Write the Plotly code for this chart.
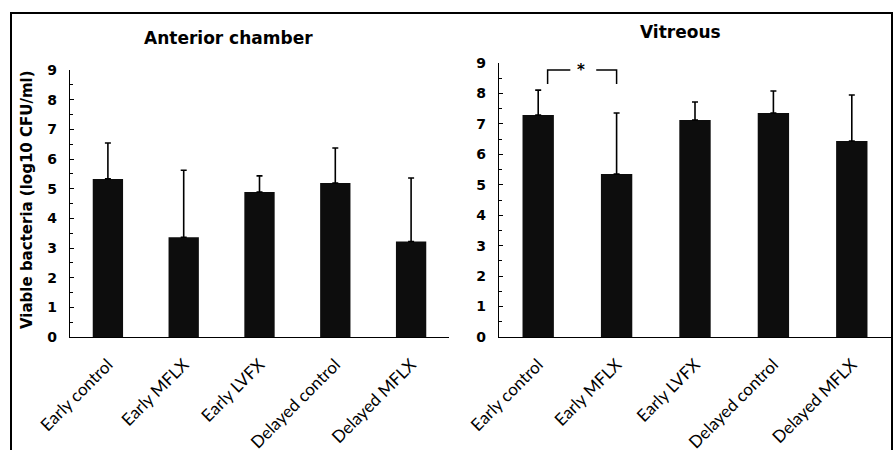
import plotly.graph_objects as go

categories = ["Early control", "Early MFLX", "Early LVFX", "Delayed control", "Delayed MFLX"]
ac_mean = [5.33, 3.36, 4.89, 5.19, 3.22]
ac_upper = [6.54, 5.62, 5.43, 6.37, 5.36]
vit_mean = [7.29, 5.35, 7.13, 7.36, 6.44]
vit_upper = [8.11, 7.36, 7.72, 8.08, 7.95]
y_ticks = [0, 1, 2, 3, 4, 5, 6, 7, 8, 9]

W, H = 896, 450
FONT = "Lato"
BOLD = "DejaVu Sans"
BAR = "#0d0d0d"

def px_x(p):
    return p / W

def px_y(p):
    return (H - p) / H

fig = go.Figure()

for vals, upper, xa, ya in [(ac_mean, ac_upper, "x", "y"), (vit_mean, vit_upper, "x2", "y2")]:
    fig.add_trace(go.Bar(
        x=categories, y=vals, xaxis=xa, yaxis=ya,
        marker=dict(color=BAR, line=dict(width=0)),
        error_y=dict(type="data", symmetric=False,
                     array=[u - v for u, v in zip(upper, vals)],
                     arrayminus=[0] * len(vals),
                     color="black", thickness=1.6, width=3),
        showlegend=False,
    ))

ax_common = dict(
    showline=True, linecolor="black", linewidth=1.2, showgrid=False,
    zeroline=False, automargin=False,
)
xcommon = dict(ax_common, tickangle=-45, ticks="",
               tickfont=dict(family=FONT, size=17, color="black"),
               ticklabelstandoff=10,
               range=[-0.5, 4.5])
ycommon = dict(ax_common, range=[0, 9], tickvals=y_ticks, ticks="inside",
               ticklen=4, tickcolor="black", tickwidth=1,
               minor=dict(dtick=0.5, ticks="inside", ticklen=3, tickcolor="black"),
               tickfont=dict(family=BOLD, size=14, color="black", weight="bold"),
               ticklabelstandoff=9)

fig.update_layout(
    width=W, height=H,
    margin=dict(l=0, r=0, t=0, b=0),
    paper_bgcolor="white", plot_bgcolor="white",
    template="none",
    bargap=0.6,
    xaxis=dict(xcommon, domain=[px_x(70), px_x(449)], anchor="y"),
    yaxis=dict(ycommon, domain=[px_y(337), px_y(70)], anchor="x"),
    xaxis2=dict(xcommon, domain=[px_x(499), px_x(891)], anchor="y2"),
    yaxis2=dict(ycommon, domain=[px_y(337), px_y(63)], anchor="x2"),
)

# outer frame
fig.add_shape(type="rect", xref="paper", yref="paper",
              x0=px_x(11), x1=px_x(892), y0=-0.2, y1=px_y(13),
              line=dict(color="black", width=2), fillcolor="rgba(0,0,0,0)")

# titles
fig.add_annotation(text="<b>Anterior chamber</b>", xref="paper", yref="paper",
                   x=px_x(228), y=px_y(38), xanchor="center", yanchor="middle",
                   showarrow=False,
                   font=dict(family=BOLD, size=17, color="black"))
fig.add_annotation(text="<b>Vitreous</b>", xref="paper", yref="paper",
                   x=px_x(680), y=px_y(32), xanchor="center", yanchor="middle",
                   showarrow=False,
                   font=dict(family=BOLD, size=17, color="black"))
fig.add_annotation(text="<b>Viable bacteria (log10 CFU/ml)</b>", xref="paper", yref="paper",
                   x=px_x(27), y=px_y(200), xanchor="center", yanchor="middle",
                   showarrow=False, textangle=-90,
                   font=dict(family=BOLD, size=15, color="black"))

# significance bracket between Early control and Early MFLX (vitreous)
br_y_top, br_y_low = 8.77, 8.31
fig.add_shape(type="path", xref="x2", yref="y2",
              path=f"M 0.12 {br_y_low} L 0.12 {br_y_top} L 0.41 {br_y_top}",
              line=dict(color="black", width=1.5))
fig.add_shape(type="path", xref="x2", yref="y2",
              path=f"M 0.74 {br_y_top} L 1.0 {br_y_top} L 1.0 {br_y_low}",
              line=dict(color="black", width=1.5))
fig.add_annotation(text="<b>*</b>", xref="x2", yref="y2", x=0.55, y=8.77,
                   xanchor="center", yanchor="middle",
                   showarrow=False, font=dict(family=BOLD, size=15, color="black"))

fig.write_html("out.html", post_script="document.body.style.margin='0';",
               config={"displayModeBar": False})
